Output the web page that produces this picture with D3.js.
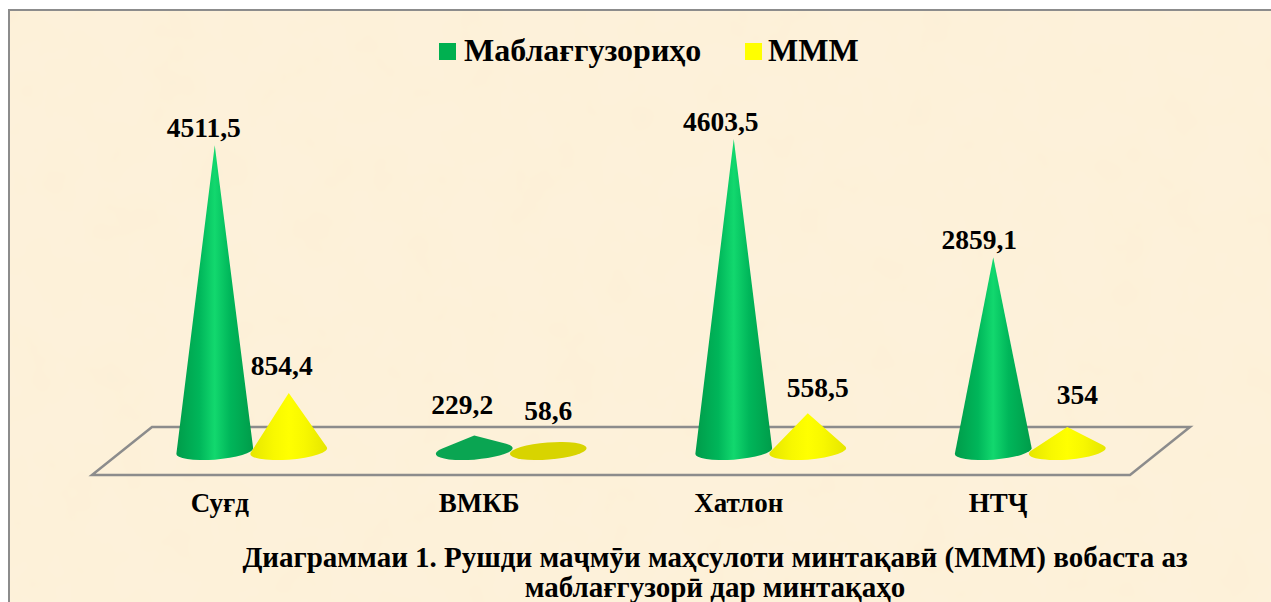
<!DOCTYPE html>
<meta charset="utf-8">
<style>
    body { margin: 0; background: #fff; }
    svg { display: block; }
    text { font-family: "Liberation Serif", serif; font-weight: bold; fill: #000; }
    .axis path, .axis line { display: none; }
    .axis text { font-size: 27px; font-family: "Liberation Serif", serif; }
    .value { font-size: 27.5px; text-anchor: middle; }
    .legend { font-size: 32px; }
    .title { font-size: 29px; text-anchor: middle; }
</style>
<svg width="1271" height="602"></svg>
<script src="https://cdn.jsdelivr.net/npm/d3@7"></script>
<script>

    var categories = ["Суғд", "ВМКБ", "Хатлон", "НТҶ"];
    var seriesNames = ["Маблағгузориҳо", "МММ"];
    var investment = [4511.5, 229.2, 4603.5, 2859.1];
    var grp = [854.4, 58.6, 558.5, 354];
    var investmentLabels = ["4511,5", "229,2", "4603,5", "2859,1"];
    var grpLabels = ["854,4", "58,6", "558,5", "354"];
    var titleLines = [
        "Диаграммаи 1. Рушди маҷмӯи маҳсулоти минтақавӣ (МММ) вобаста аз",
        "маблағгузорӣ дар минтақаҳо"
    ];

    var svg = d3.select("svg");
    var defs = svg.append("defs");

    // paper texture behind the chart
    var paper = defs.append("filter").attr("id", "paper")
        .attr("x", 0).attr("y", 0).attr("width", 1).attr("height", 1);
    paper.append("feTurbulence")
        .attr("type", "fractalNoise").attr("baseFrequency", 0.02)
        .attr("numOctaves", 3).attr("seed", 4);
    paper.append("feColorMatrix").attr("type", "matrix")
        .attr("values", "0 0 0 0 0.96  0 0 0 0 0.85  0 0 0 0 0.62  0.4 0 0 0 -0.14");

    function gradient(id, edge, side, mid) {
        var g = defs.append("linearGradient").attr("id", id);
        g.append("stop").attr("offset", "0%").attr("stop-color", edge);
        g.append("stop").attr("offset", "30%").attr("stop-color", side);
        g.append("stop").attr("offset", "50%").attr("stop-color", mid);
        g.append("stop").attr("offset", "70%").attr("stop-color", side);
        g.append("stop").attr("offset", "100%").attr("stop-color", edge);
    }
    gradient("cone0", "#009c4a", "#00b65a", "#12d86e");
    gradient("cone1", "#e6e600", "#f8f800", "#ffff00");

    svg.append("rect").attr("x", 9).attr("y", 10).attr("width", 1270).attr("height", 600)
        .attr("fill", "#fdf1da").attr("stroke", "#8c8c8c").attr("stroke-width", 2);
    svg.append("rect").attr("x", 10).attr("y", 11).attr("width", 1261).attr("height", 591)
        .attr("filter", "url(#paper)");

    // floor is a parallelogram, the axis runs along its front edge
    var floorFront = 475, floorBack = 427, skew = 60;
    var x = d3.scaleBand().domain(categories).range([92, 1130]);
    var xSeries = d3.scalePoint().domain(seriesNames).range([-37, 37]);
    var y = d3.scaleLinear().domain([0, 4603.5]).range([451, 139]);

    svg.append("path")
        .attr("d", "M92," + floorFront + "L1130," + floorFront + "L" + (1130 + skew) + "," + floorBack + "L" + (92 + skew) + "," + floorBack + "Z")
        .attr("fill", "none").attr("stroke", "#8c8c8c").attr("stroke-width", 2.5);

    var axis = svg.append("g").attr("class", "axis")
        .attr("transform", "translate(-2," + floorFront + ")")
        .call(d3.axisBottom(x).tickSize(0).tickPadding(18));

    var rx = 38.5, ry = 8.6, tilt = -4.5;
    var tiltRad = tilt * Math.PI / 180;

    // outline of a cone seen from above: base ellipse plus the tangents from its apex
    function coneTangents(h) {
        var a = -h * Math.sin(tiltRad) / rx,
            b = -h * Math.cos(tiltRad) / ry,
            d = Math.sqrt(a * a + b * b);
        if (d <= 1) return null;
        var base = Math.atan2(b, a), off = Math.acos(1 / d);
        return [
            rotated([rx * Math.cos(base - off), ry * Math.sin(base - off)]),
            rotated([rx * Math.cos(base + off), ry * Math.sin(base + off)])
        ];
    }

    function rotated(p) {
        return [p[0] * Math.cos(tiltRad) - p[1] * Math.sin(tiltRad), p[0] * Math.sin(tiltRad) + p[1] * Math.cos(tiltRad)];
    }

    var rows = [
        { name: seriesNames[0], values: investment, labels: investmentLabels, fill: "url(#cone0)", flat: "#0aa552",
          nudge: [[-11, -8], [-12, -21], [-13, -8], [-14, -8]] },
        { name: seriesNames[1], values: grp, labels: grpLabels, fill: "url(#cone1)", flat: "#d8d400",
          nudge: [[-7, -18], [0, -27], [10, -16], [10, -23]] }
    ];

    rows.forEach(function(row, s) {
        var g = svg.append("g");
        row.values.forEach(function(v, i) {
            var cx = x(categories[i]) + x.bandwidth() / 2 + skew / 2 + xSeries(row.name),
                cy = y(0),
                top = y(v),
                tangents = coneTangents(cy - top);
            var cone = g.append("g").attr("transform", "translate(" + cx + "," + cy + ")");
            if (!tangents) {
                cone.append("ellipse").attr("rx", rx).attr("ry", ry)
                    .attr("transform", "rotate(" + tilt + ")").attr("fill", row.flat);
            } else {
                var from = tangents[0][0] < tangents[1][0] ? tangents[0] : tangents[1],
                    to = tangents[0][0] < tangents[1][0] ? tangents[1] : tangents[0];
                // arc goes back round the front of the base
                cone.append("path")
                    .attr("d", "M" + from + "L0," + (top - cy) + "L" + to +
                        "A" + rx + "," + ry + " " + tilt + " 1 1 " + from + "Z")
                    .attr("fill", v < 300 ? row.flat : row.fill);
            }
            svg.append("text").attr("class", "value")
                .attr("x", cx + row.nudge[i][0])
                .attr("y", top + row.nudge[i][1])
                .text(row.labels[i]);
        });
    });

    var legend = svg.append("g");
    var legendX = [439, 745], legendText = [464, 768], legendFill = ["#00b050", "#ffff00"];
    seriesNames.forEach(function(name, i) {
        legend.append("rect").attr("x", legendX[i]).attr("y", 43)
            .attr("width", 17).attr("height", 17).attr("fill", legendFill[i]);
        legend.append("text").attr("class", "legend")
            .attr("x", legendText[i]).attr("y", 61).text(name);
    });

    titleLines.forEach(function(line, i) {
        svg.append("text").attr("class", "title")
            .attr("x", 715).attr("y", 567 + i * 30).text(line);
    });

</script>
